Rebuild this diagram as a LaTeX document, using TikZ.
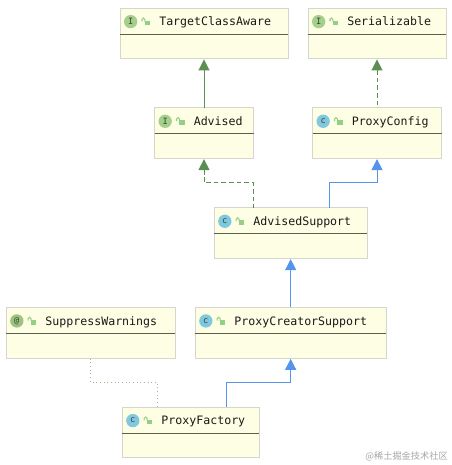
\documentclass[tikz,border=0pt]{standalone}
\usepackage{fontspec}
\setmonofont{DejaVu Sans Mono}
\newfontfamily\cjkfont{Noto Sans CJK SC}
\definecolor{boxfill}{HTML}{FEFEE4}
\definecolor{boxedge}{HTML}{D6D6CC}
\definecolor{boxrule}{HTML}{5E5E4C}
\definecolor{ifacegreen}{HTML}{A5D08B}
\definecolor{classblue}{HTML}{7FC9DE}
\definecolor{annogreen}{HTML}{9CC47E}
\definecolor{lockgreen}{HTML}{93CF85}
\definecolor{implgreen}{HTML}{5B8F52}
\definecolor{extblue}{HTML}{5394EC}
\definecolor{depbrown}{HTML}{B9AD8E}
\usetikzlibrary{arrows.meta,positioning,calc}

\begin{document}
\begin{tikzpicture}[
  classbox/.style={rectangle, draw=boxedge, fill=boxfill, line width=0.75pt, minimum height=38pt, outer sep=0pt, inner sep=0pt},
  title/.style={anchor=west, font=\ttfamily\fontsize{8.7}{10}\selectfont, text=black!90, inner sep=0pt, text height=6.5pt, text depth=1.5pt},
  badge/.style={circle, minimum size=10pt, inner sep=0pt, font=\ttfamily\fontsize{6.5}{7}\selectfont, text=black!75},
  tip/.style={{Triangle[length=8.25pt, width=8.25pt]}-, line width=0.75pt, shorten <=0.6pt},
  impl/.style={tip, implgreen},
  ext/.style={tip, extblue},
  node distance=36.75pt and 15pt,
]
\useasboundingbox (0,0) rectangle (339pt,-348.75pt);

\node[classbox, minimum width=126pt] (tca) at (153pt,-25pt) {};
\node[classbox, minimum width=103.5pt, right=of tca] (ser) {};
\node[classbox, minimum width=74.25pt, below=of tca] (adv) {};
\node[classbox, minimum width=96.75pt, below=of ser] (pcfg) {};
\node[classbox, minimum width=114.75pt] (asup) at (218pt,-174.75pt) {};
\node[classbox, minimum width=143.25pt, below=of asup] (pcs) {};
\node[classbox, minimum width=126.75pt, left=of pcs] (warn) {};
\node[classbox, minimum width=102.75pt, below=of pcs, xshift=-75pt] (pfac) {};

\foreach \b/\c/\l/\t in {tca/ifacegreen/I/TargetClassAware, ser/ifacegreen/I/Serializable,
    adv/ifacegreen/I/Advised, pcfg/classblue/c/ProxyConfig, asup/classblue/c/AdvisedSupport,
    warn/annogreen/@/SuppressWarnings, pcs/classblue/c/ProxyCreatorSupport, pfac/classblue/c/ProxyFactory} {
  \draw[boxrule, line width=0.6pt] ([yshift=-19.5pt]\b.north west) -- ([yshift=-19.5pt]\b.north east);
  \node[badge, fill=\c] (\b-badge) at ([xshift=8pt, yshift=-10.2pt]\b.north west) {\l};
  \fill[lockgreen] ([xshift=18.5pt, yshift=-9.5pt]\b.north west) rectangle ([xshift=22.5pt, yshift=-13pt]\b.north west);
  \draw[lockgreen, line width=0.8pt] ([xshift=16.5pt, yshift=-10pt]\b.north west) -- ++(0,1.4pt) arc (180:0:1.1pt) -- ++(0,-1.6pt);
  \node[title] (\b-title) at ([xshift=29.25pt, yshift=-10.8pt]\b.north west) {\t};
}

\draw[impl] (tca) -- (adv);
\draw[impl, dash pattern=on 3.5pt off 2.2pt] (ser) -- (pcfg);
\draw[impl, dash pattern=on 3.5pt off 2.2pt] (adv.south) -- ++(0,-18.4pt) -| ([xshift=29.25pt]asup.north west);
\draw[ext] (pcfg.south) -- ++(0,-18.4pt) -| ([xshift=86.25pt]asup.north west);
\draw[ext] (asup) -- (pcs);
\draw[ext] (pcs.south) -- ++(0,-18.4pt) -| ([xshift=26.5pt]pfac.north);
\draw[depbrown, line width=0.75pt, dash pattern=on 0.75pt off 2pt, shorten <=0.6pt] (warn.south) -- ++(0,-18.4pt) -| ([xshift=-25pt]pfac.north);

\node[anchor=east, inner sep=0pt, text=black!35, font=\cjkfont\fontsize{6.9}{8}\selectfont] (mark) at (336pt,-342pt) {@稀土掘金技术社区};
\end{tikzpicture}
\end{document}
